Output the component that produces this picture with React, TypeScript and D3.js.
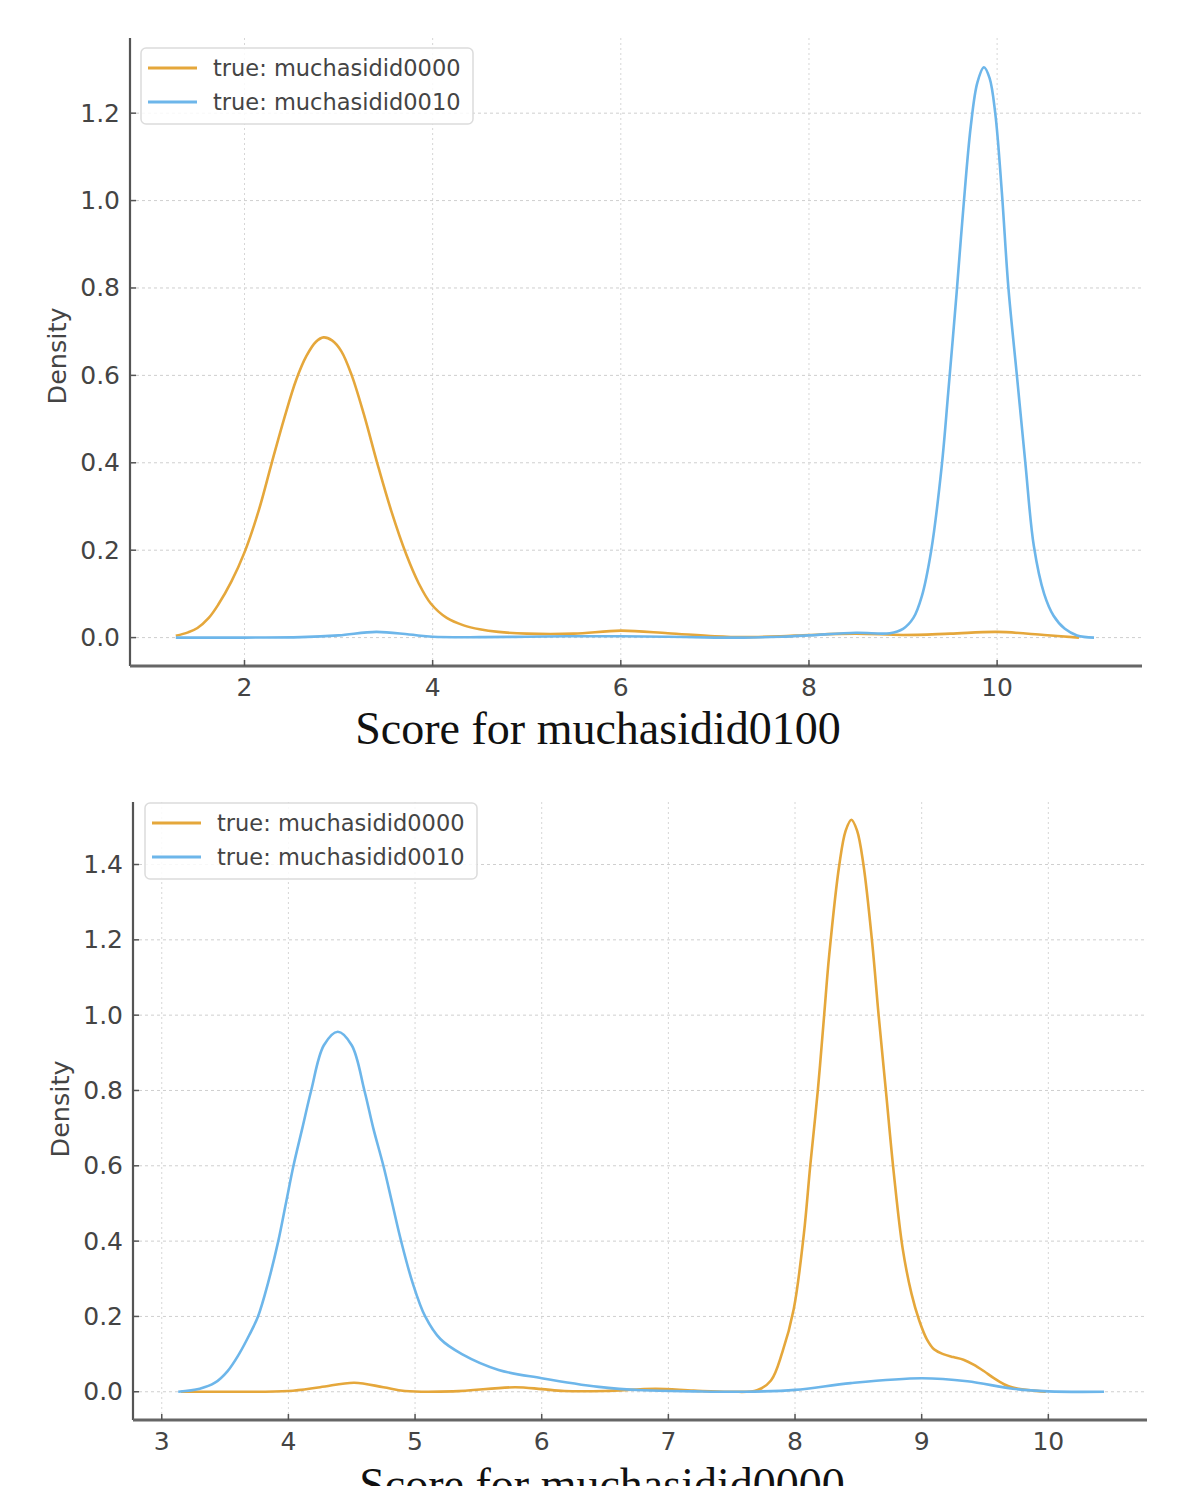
import * as d3 from "d3";

// density curves: [score, density]
const topMid0000: [number, number][] = [
  [1.27, 0.004], [1.4, 0.012], [1.5, 0.022], [1.62, 0.045], [1.72, 0.075], [1.86, 0.128],
  [2.0, 0.195], [2.15, 0.29], [2.29, 0.4], [2.42, 0.5], [2.55, 0.59], [2.66, 0.645],
  [2.76, 0.677], [2.84, 0.687], [2.93, 0.68], [3.03, 0.655], [3.14, 0.6], [3.27, 0.51],
  [3.41, 0.4], [3.56, 0.29], [3.72, 0.19], [3.85, 0.125], [3.98, 0.078], [4.15, 0.045],
  [4.33, 0.028], [4.5, 0.019], [4.7, 0.013], [5.0, 0.009], [5.5, 0.009], [6.0, 0.016],
  [6.5, 0.01], [7.0, 0.003], [7.3, 0.001], [7.7, 0.003], [8.0, 0.006], [8.5, 0.009],
  [9.0, 0.006], [9.5, 0.009], [10.0, 0.013], [10.5, 0.006], [10.87, 0.0],
];

const topMid0010: [number, number][] = [
  [1.27, 0.0], [2.0, 0.0], [2.6, 0.001], [3.0, 0.005], [3.4, 0.013], [3.75, 0.007],
  [4.0, 0.002], [4.5, 0.001], [5.0, 0.002], [5.5, 0.003], [6.0, 0.003], [6.5, 0.002],
  [7.0, 0.0], [7.3, 0.0], [7.7, 0.002], [8.0, 0.005], [8.5, 0.011], [8.86, 0.01],
  [9.0, 0.02], [9.11, 0.045], [9.2, 0.095], [9.3, 0.2], [9.41, 0.39], [9.48, 0.56],
  [9.57, 0.79], [9.64, 0.98], [9.72, 1.17], [9.79, 1.27], [9.86, 1.305], [9.92, 1.28],
  [9.98, 1.2], [10.05, 1.02], [10.12, 0.8], [10.21, 0.6], [10.3, 0.4], [10.39, 0.21],
  [10.5, 0.1], [10.6, 0.05], [10.72, 0.02], [10.85, 0.005], [11.03, 0.0],
];

const botMid0000: [number, number][] = [
  [3.15, 0.0], [3.6, 0.0], [4.0, 0.002], [4.25, 0.012], [4.52, 0.024], [4.75, 0.012],
  [4.92, 0.002], [5.3, 0.001], [5.79, 0.012], [6.0, 0.007], [6.18, 0.002], [6.5, 0.002],
  [6.9, 0.008], [7.2, 0.003], [7.5, 0.0], [7.7, 0.004], [7.81, 0.03], [7.9, 0.105],
  [7.99, 0.22], [8.07, 0.42], [8.12, 0.6], [8.18, 0.8], [8.23, 1.0], [8.27, 1.16],
  [8.35, 1.4], [8.4, 1.49], [8.445, 1.519], [8.49, 1.49], [8.54, 1.4], [8.61, 1.19],
  [8.66, 1.0], [8.72, 0.79], [8.78, 0.58], [8.85, 0.38], [8.92, 0.26], [8.98, 0.19],
  [9.04, 0.14], [9.1, 0.112], [9.17, 0.1], [9.25, 0.092], [9.33, 0.085], [9.41, 0.072],
  [9.49, 0.055], [9.57, 0.036], [9.65, 0.02], [9.72, 0.011], [9.88, 0.003], [9.98, 0.0],
];

const botMid0010: [number, number][] = [
  [3.13, 0.0], [3.3, 0.008], [3.42, 0.024], [3.52, 0.055], [3.61, 0.1], [3.69, 0.15],
  [3.76, 0.2], [3.84, 0.29], [3.92, 0.4], [3.98, 0.5], [4.04, 0.6], [4.11, 0.7],
  [4.18, 0.8], [4.28, 0.92], [4.39, 0.956], [4.5, 0.92], [4.6, 0.8], [4.67, 0.7],
  [4.75, 0.6], [4.82, 0.5], [4.89, 0.4], [4.98, 0.29], [5.08, 0.2], [5.2, 0.14],
  [5.37, 0.1], [5.66, 0.058], [6.0, 0.036], [6.45, 0.013], [6.8, 0.004], [7.2, 0.001],
  [7.6, 0.0], [8.0, 0.005], [8.44, 0.023], [9.0, 0.036], [9.36, 0.028], [9.72, 0.008],
  [10.0, 0.001], [10.44, 0.0],
];

const legendLabels = ["true: muchasidid0000", "true: muchasidid0010"];
const seriesColors = ["#e5a73b", "#6db6ea"];

const topXTicks = [2, 4, 6, 8, 10];
const topYTicks = [0, 0.2, 0.4, 0.6, 0.8, 1.0, 1.2];
const botXTicks = [3, 4, 5, 6, 7, 8, 9, 10];
const botYTicks = [0, 0.2, 0.4, 0.6, 0.8, 1.0, 1.2, 1.4];

type Panel = {
  left: number;
  right: number;
  top: number;
  bottom: number;
  xDomain: [number, number];
  yDomain: [number, number];
  xTicks: number[];
  yTicks: number[];
  xLabel: string;
  xLabelY: number;
  legendX: number;
  legendY: number;
  densityX: number;
  densityY: number;
  series: [number, number][][];
};

const panels: Panel[] = [
  {
    left: 130, right: 1142, top: 38, bottom: 666,
    xDomain: [0.783, 11.54], yDomain: [-0.065, 1.372],
    xTicks: topXTicks, yTicks: topYTicks,
    xLabel: "Score for muchasidid0100", xLabelY: 744,
    legendX: 141, legendY: 48, densityX: 57, densityY: 356,
    series: [topMid0000, topMid0010],
  },
  {
    left: 133, right: 1147, top: 802, bottom: 1420,
    xDomain: [2.773, 10.779], yDomain: [-0.075, 1.566],
    xTicks: botXTicks, yTicks: botYTicks,
    xLabel: "Score for muchasidid0000", xLabelY: 1500,
    legendX: 145, legendY: 803, densityX: 60, densityY: 1109,
    series: [botMid0000, botMid0010],
  },
];

const sans = "'DejaVu Sans', Verdana, sans-serif";
const textColor = "#444";

function DensityPanel({ p }: { p: Panel }) {
  const x = d3.scaleLinear().domain(p.xDomain).range([p.left, p.right]);
  const y = d3.scaleLinear().domain(p.yDomain).range([p.bottom, p.top]);
  const line = d3
    .line<[number, number]>()
    .x((d) => x(d[0]))
    .y((d) => y(d[1]))
    .curve(d3.curveCatmullRom.alpha(0.5));
  const fmt = d3.format(".1f");

  return (
    <g>
      {/* grid */}
      {p.yTicks.map((t) => (
        <line key={"gy" + t} x1={p.left} x2={p.right} y1={y(t)} y2={y(t)}
          stroke="#cfcfcf" strokeWidth={1} strokeDasharray="3,3" />
      ))}
      {p.xTicks.map((t) => (
        <line key={"gx" + t} x1={x(t)} x2={x(t)} y1={p.top} y2={p.bottom}
          stroke="#d6d6d6" strokeWidth={1} strokeDasharray="2,3" />
      ))}

      {/* curves */}
      {p.series.map((s, i) => (
        <path key={"s" + i} d={line(s) ?? ""} fill="none" stroke={seriesColors[i]}
          strokeWidth={2.6} strokeLinejoin="round" />
      ))}

      {/* axes */}
      <line x1={p.left} x2={p.left} y1={p.top} y2={p.bottom} stroke="#555" strokeWidth={2.2} />
      <line x1={p.left} x2={p.right} y1={p.bottom} y2={p.bottom} stroke="#666" strokeWidth={3} />
      {p.yTicks.map((t) => (
        <g key={"ty" + t}>
          <line x1={p.left} x2={p.left + 6} y1={y(t)} y2={y(t)} stroke="#555" strokeWidth={1.5} />
          <text x={p.left - 10} y={y(t)} textAnchor="end" dominantBaseline="central"
            fontFamily={sans} fontSize={25} fill={textColor}>
            {fmt(t)}
          </text>
        </g>
      ))}
      {p.xTicks.map((t) => (
        <g key={"tx" + t}>
          <line x1={x(t)} x2={x(t)} y1={p.bottom} y2={p.bottom - 6} stroke="#555" strokeWidth={1.5} />
          <text x={x(t)} y={p.bottom + 21} textAnchor="middle" dominantBaseline="central"
            fontFamily={sans} fontSize={25} fill={textColor}>
            {t}
          </text>
        </g>
      ))}

      {/* labels */}
      <text x={(p.left + p.right) / 2 - 38} y={p.xLabelY} textAnchor="middle"
        fontFamily="'Liberation Serif', 'Times New Roman', serif" fontSize={46} fill="#111">
        {p.xLabel}
      </text>
      <text transform={`translate(${p.densityX},${p.densityY}) rotate(-90)`} textAnchor="middle"
        dominantBaseline="central" fontFamily={sans} fontSize={25.5} fill={textColor}>
        Density
      </text>

      {/* legend */}
      <rect x={p.legendX} y={p.legendY} width={332} height={76} rx={5}
        fill="white" fillOpacity={0.85} stroke="#dcdcdc" strokeWidth={1.5} />
      {legendLabels.map((lab, i) => (
        <g key={lab}>
          <line x1={p.legendX + 7} x2={p.legendX + 56}
            y1={p.legendY + 20 + i * 34} y2={p.legendY + 20 + i * 34}
            stroke={seriesColors[i]} strokeWidth={3} />
          <text x={p.legendX + 72} y={p.legendY + 20 + i * 34} dominantBaseline="central"
            fontFamily={sans} fontSize={22.5} fill={textColor}>
            {lab}
          </text>
        </g>
      ))}
    </g>
  );
}

export default function App() {
  return (
    <svg width={1200} height={1486} style={{ position: "absolute", left: 0, top: 0, background: "white" }}>
      <rect width={1200} height={1486} fill="white" />
      {panels.map((p, i) => (
        <DensityPanel key={i} p={p} />
      ))}
    </svg>
  );
}
